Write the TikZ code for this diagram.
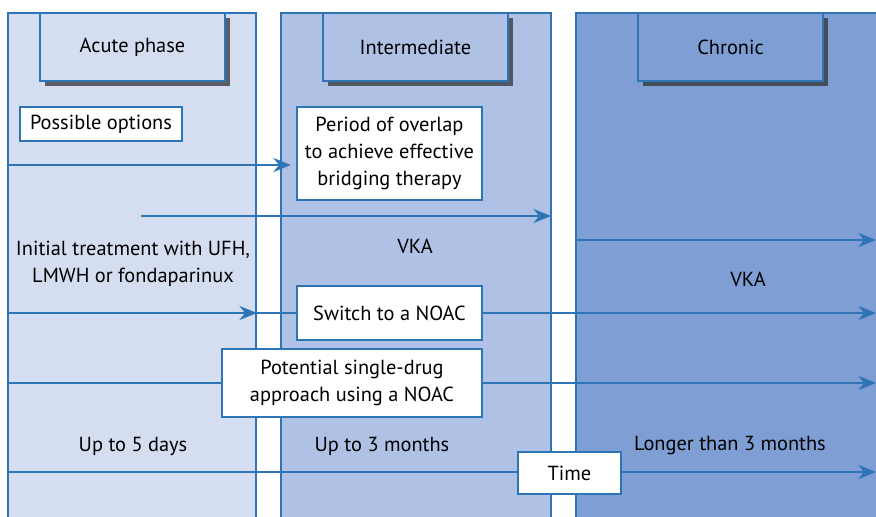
\documentclass[tikz,border=0pt]{standalone}
\usepackage{fontspec}
\setmainfont{PT Sans}
\usetikzlibrary{arrows.meta,shadows}

\definecolor{edgeblue}{HTML}{2E75B6}
\definecolor{acutefill}{HTML}{D5DDF0}
\definecolor{interfill}{HTML}{AFC1E4}
\definecolor{chronfill}{HTML}{7F9ED3}

\tikzset{
  column/.style={draw=edgeblue, line width=0.8pt},
  phase/.style={draw=edgeblue, line width=0.9pt, minimum width=3.7cm, minimum height=1.36cm,
    drop shadow={shadow xshift=3pt, shadow yshift=-3pt, fill=black!80, opacity=0.75}},
  option/.style={draw=edgeblue, fill=white, line width=0.9pt, align=center, inner sep=0pt},
  label/.style={align=center},
  flow/.style={draw=edgeblue, line width=1.3pt, -{Stealth[length=10pt, width=8pt]}},
  plain/.style={draw=edgeblue, line width=1.3pt}
}

\begin{document}
\begin{tikzpicture}[x=0.02cm, y=-0.02cm, font=\fontsize{11.6}{15.4}\selectfont]
\useasboundingbox (0,0) rectangle (876,517);
\clip (0,0) rectangle (876,517);

\fill[white] (0,0) rectangle (876,517);
\draw[column, fill=acutefill] (8,13) rectangle (256,540);
\draw[column, fill=interfill] (281,13) rectangle (551,540);
\draw[column, fill=chronfill] (576,13) rectangle (900,540);

\node[phase, fill=acutefill] (acute) at (132.5,47) {Acute phase};
\node[phase, fill=interfill] (inter) at (415.5,47) {Intermediate};
\node[phase, fill=chronfill] (chronic) at (730.5,47) {Chronic};

\node[option, minimum width=3.24cm, minimum height=0.68cm] (options) at (101,124) {Possible options};
\node[option, minimum width=3.7cm, minimum height=1.86cm] (overlap) at (389.5,153.5) {Period of overlap\\to achieve effective\\bridging therapy};
\node[option, minimum width=3.7cm, minimum height=1.08cm] (switch) at (389.5,313) {Switch to a NOAC};
\node[option, minimum width=5.2cm, minimum height=1.36cm] (single) at (352,383) {Potential single-drug\\approach using a NOAC};
\node[option, minimum width=2.06cm, minimum height=0.84cm] (time) at (569.5,473) {Time};

\node[label] (vkainter) at (415,246) {VKA};
\node[label] (vkachron) at (748,279) {VKA};
\node[label] (initial) at (133,264) {Initial treatment with UFH,\\LMWH or fondaparinux};
\node[label] (days) at (133,446) {Up to 5 days};
\node[label] (months) at (382,446) {Up to 3 months};
\node[label] (longer) at (730,446) {Longer than 3 months};

\coordinate (s1) at (8,165);
\coordinate (s2) at (141,216);
\coordinate (e2) at (551,216);
\coordinate (s3) at (576,240);
\coordinate (e3) at (876,240);
\coordinate (s4) at (8,313);
\coordinate (m4) at (257,313);
\coordinate (e4) at (876,313);
\coordinate (s5) at (8,383);
\coordinate (e5) at (876,383);
\coordinate (s6) at (8,472);
\coordinate (e6) at (876,472);

\draw[flow, shorten >=3pt] (s1) -- (s1 -| overlap.west);
\draw[flow] (s2) -- (e2);
\draw[flow] (s3) -- (e3);
\draw[flow] (s4) -- (m4);
\draw[plain] (m4) -- (switch.west);
\draw[flow] (switch.east) -- (e4);
\draw[plain] (s5) -- (single.west);
\draw[flow] (single.east) -- (e5);
\draw[plain] (s6) -- (s6 -| time.west);
\draw[flow] (s6 -| time.east) -- (e6);
\end{tikzpicture}
\end{document}
